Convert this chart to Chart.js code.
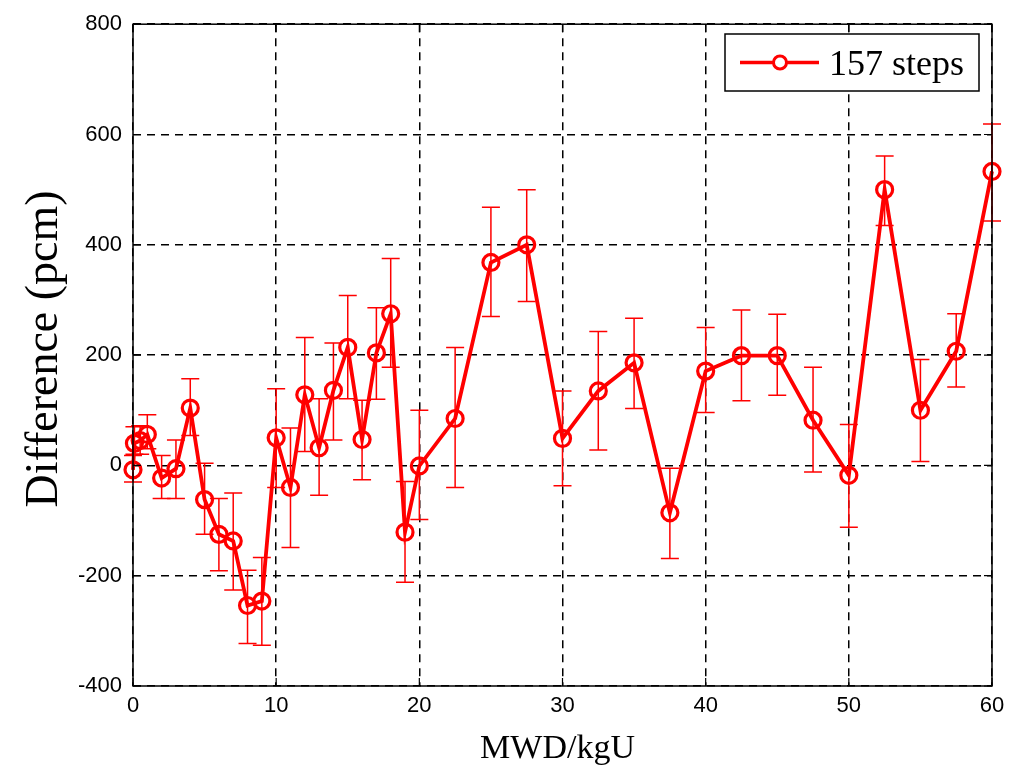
<!DOCTYPE html>
<html>
<head>
<meta charset="utf-8">
<script src="https://cdn.jsdelivr.net/npm/chart.js@4/dist/chart.umd.min.js"></script>
<style>
  html, body { margin: 0; padding: 0; background: #fff; }
  canvas { display: block; }
</style>
</head>
<body>
<canvas id="c" width="1019" height="767"></canvas>
<script>
// ---- data ----
const burnup = [0, 0.1, 0.5, 1, 2, 3, 4, 5, 6, 7, 8, 9, 10, 11, 12, 13, 14, 15, 16, 17, 18, 19, 20, 22.5, 25, 27.5, 30, 32.5, 35, 37.5, 40, 42.5, 45, 47.5, 50, 52.5, 55, 57.5, 60];
const difference = [-8, 40, 45, 56, -23, -6, 104, -62, -125, -137, -254, -246, 50, -40, 128, 32, 136, 214, 47, 204, 275, -121, -1, 85, 368, 400, 49, 135, 186, -86, 171, 199, 199, 82, -18, 500, 100, 207, 533];
const errHigh = [18, 70, 72, 92, 18, 46, 157, 4, -60, -50, -190, -167, 139, 68, 232, 121, 222, 308, 118, 286, 375, -29, 100, 214, 468, 500, 135, 243, 267, -5, 250, 282, 274, 178, 74, 561, 192, 275, 619];
const errLow = [-30, 20, 20, 30, -60, -60, 54, -125, -191, -226, -323, -326, -40, -149, 25, -54, 46, 121, -26, 120, 178, -212, -98, -40, 270, 297, -37, 28, 103, -169, 96, 117, 127, -12, -112, 435, 7, 142, 443];
const xTicks = [0, 10, 20, 30, 40, 50, 60];
const yTicks = [-400, -200, 0, 200, 400, 600, 800];
const seriesName = '157 steps';
const xTitle = 'MWD/kgU';
const yTitle = 'Difference (pcm)';

const RED = '#ff0000';

const errorBarPlugin = {
  id: 'errorBars',
  beforeDatasetsDraw(chart) {
    const ctx = chart.ctx, xs = chart.scales.x, ys = chart.scales.y;
    ctx.save();
    ctx.strokeStyle = RED;
    ctx.lineWidth = 1.5;
    const cap = 9;
    for (let i = 0; i < burnup.length; i++) {
      const px = xs.getPixelForValue(burnup[i]);
      const pt = ys.getPixelForValue(errHigh[i]);
      const pb = ys.getPixelForValue(errLow[i]);
      ctx.beginPath();
      ctx.moveTo(px, pt); ctx.lineTo(px, pb);
      ctx.moveTo(px - cap, pt); ctx.lineTo(px + cap, pt);
      ctx.moveTo(px - cap, pb); ctx.lineTo(px + cap, pb);
      ctx.stroke();
    }
    ctx.restore();
  }
};

const framePlugin = {
  id: 'frame',
  afterDraw(chart) {
    const ctx = chart.ctx, a = chart.chartArea, xs = chart.scales.x, ys = chart.scales.y;
    ctx.save();
    ctx.strokeStyle = '#000';
    ctx.lineWidth = 1.5;
    ctx.strokeRect(a.left, a.top, a.right - a.left, a.bottom - a.top);
    // inside ticks
    ctx.lineWidth = 1.2;
    const tl = 8;
    ctx.beginPath();
    xTicks.forEach(v => {
      const p = xs.getPixelForValue(v);
      ctx.moveTo(p, a.bottom); ctx.lineTo(p, a.bottom - tl);
      ctx.moveTo(p, a.top); ctx.lineTo(p, a.top + tl);
    });
    yTicks.forEach(v => {
      const p = ys.getPixelForValue(v);
      ctx.moveTo(a.left, p); ctx.lineTo(a.left + tl, p);
      ctx.moveTo(a.right, p); ctx.lineTo(a.right - tl, p);
    });
    ctx.stroke();

    // axis titles
    ctx.fillStyle = '#000';
    ctx.font = '34px "Liberation Serif", "Times New Roman", serif';
    ctx.textAlign = 'center';
    ctx.textBaseline = 'alphabetic';
    ctx.fillText(xTitle, (a.left + a.right) / 2 - 5, 758);
    ctx.save();
    ctx.translate(57, 349);
    ctx.rotate(-Math.PI / 2);
    ctx.font = '46px "Liberation Serif", "Times New Roman", serif';
    ctx.fillText(yTitle, 0, 0);
    ctx.restore();

    // legend
    const lx = 725, ly = 34, lw = 254, lh = 57;
    ctx.fillStyle = '#fff';
    ctx.fillRect(lx, ly, lw, lh);
    ctx.strokeStyle = '#000';
    ctx.lineWidth = 1.5;
    ctx.strokeRect(lx, ly, lw, lh);
    const cy = ly + lh / 2;
    ctx.strokeStyle = RED;
    ctx.lineWidth = 3.5;
    ctx.beginPath();
    ctx.moveTo(740, cy); ctx.lineTo(819, cy);
    ctx.stroke();
    ctx.lineWidth = 3;
    ctx.beginPath();
    ctx.arc(780, cy, 6.5, 0, Math.PI * 2);
    ctx.fillStyle = '#fff';
    ctx.fill();
    ctx.stroke();
    ctx.fillStyle = '#000';
    ctx.font = '36px "Liberation Serif", "Times New Roman", serif';
    ctx.textAlign = 'left';
    ctx.textBaseline = 'alphabetic';
    ctx.fillText(seriesName, 829, cy + 12);
    ctx.restore();
  }
};

const tickFont = { family: '"Liberation Sans", Arial, sans-serif', size: 22 };

new Chart(document.getElementById('c'), {
  type: 'line',
  data: {
    datasets: [{
      label: seriesName,
      data: burnup.map((x, i) => ({ x: x, y: difference[i] })),
      borderColor: RED,
      borderWidth: 3.8,
      pointRadius: 8,
      pointBorderWidth: 3.2,
      pointBorderColor: RED,
      pointBackgroundColor: 'rgba(0,0,0,0)',
      tension: 0,
      fill: false,
      clip: false
    }]
  },
  options: {
    responsive: false,
    animation: false,
    devicePixelRatio: 1,
    layout: { padding: { top: 20, right: 27, left: 0, bottom: 0 } },
    plugins: { legend: { display: false }, tooltip: { enabled: false } },
    scales: {
      x: {
        type: 'linear',
        min: 0, max: 60,
        afterFit(s) { s.height = 81; },
        afterBuildTicks(s) { s.ticks = xTicks.map(v => ({ value: v })); },
        ticks: { color: '#000', font: tickFont, padding: 7, maxRotation: 0 },
        grid: { color: '#000', lineWidth: 1.5, drawTicks: false },
        border: { display: false, dash: [8, 6] }
      },
      y: {
        type: 'linear',
        min: -400, max: 800,
        afterFit(s) { s.width = 133; },
        afterBuildTicks(s) { s.ticks = yTicks.map(v => ({ value: v })); },
        ticks: { color: '#000', font: tickFont, padding: 11 },
        grid: { color: '#000', lineWidth: 1.5, drawTicks: false },
        border: { display: false, dash: [8, 6] }
      }
    }
  },
  plugins: [errorBarPlugin, framePlugin]
});
</script>
</body>
</html>
